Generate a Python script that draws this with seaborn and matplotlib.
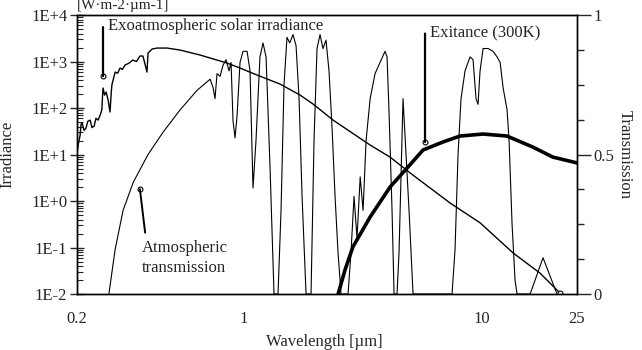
import numpy as np
import matplotlib
matplotlib.use("Agg")
import matplotlib.pyplot as plt
import seaborn as sns
from matplotlib.ticker import LogLocator, NullFormatter, MultipleLocator

# Exoatmospheric solar irradiance [W m-2 um-1]
solar_wl = [0.200, 0.203, 0.206, 0.208, 0.210, 0.214, 0.218, 0.222, 0.227, 0.231,
            0.236, 0.240, 0.245, 0.250, 0.254, 0.257, 0.261, 0.265, 0.270, 0.275,
            0.278, 0.280, 0.284, 0.289, 0.296, 0.303, 0.310, 0.318, 0.330, 0.343,
            0.355, 0.367, 0.378, 0.393, 0.397, 0.413, 0.433, 0.477, 0.541, 0.656,
            0.851, 0.965, 1.137, 1.42, 1.72, 1.954, 2.37, 3.39, 4.11, 5.13,
            7.33, 9.80, 13.5, 17.5, 21.2]
solar_irr = [10.8, 18, 26, 45, 48, 33, 37, 52, 55, 38,
             41, 60, 55, 70, 91, 269, 190, 221, 149, 82,
             200, 313, 420, 594, 560, 724, 680, 841, 920, 1077,
             1000, 1313, 1313, 594, 1525, 1858, 1950, 1950, 1766, 1381,
             929, 724, 513, 328, 191, 122, 55, 16, 8.8, 3.6,
             0.91, 0.34, 0.076, 0.028, 0.0105]

# Exitance of a 300 K body [W m-2 um-1]
exit_wl = [2.49, 2.66, 2.87, 3.39, 4.11, 4.84, 5.65, 6.85, 8.08, 10.1, 12.7, 16.3, 19.8, 25]
exit_val = [0.01, 0.033, 0.103, 0.453, 2.0, 5.1, 12.5, 18.6, 25, 27.6, 25, 14.5, 8.8, 6.6]

# Atmospheric transmission (right axis)
trans_wl = [0.272, 0.289, 0.312, 0.344, 0.397, 0.459, 0.541, 0.637, 0.723, 0.744,
            0.758, 0.773, 0.796, 0.819, 0.843, 0.868, 0.885, 0.902, 0.920, 0.938,
            0.965, 0.994, 1.033, 1.063, 1.094, 1.126, 1.17, 1.205, 1.241, 1.29,
            1.340, 1.393, 1.434, 1.476, 1.519, 1.56, 1.610, 1.658, 1.707, 1.757,
            1.826, 1.916, 1.972, 2.030, 2.09, 2.150, 2.214, 2.279, 2.346, 2.416,
            2.486, 2.560, 2.739, 2.819, 2.902, 2.987, 3.08, 3.167, 3.260, 3.39,
            3.555, 3.73, 3.915, 3.992, 4.070, 4.189, 4.271, 4.396, 4.482, 4.658,
            4.795, 4.936, 5.131, 7.478, 7.697, 7.923, 8.155, 8.477, 8.90, 9.158,
            9.428, 9.612, 9.80, 10.09, 10.59, 11.11, 11.55, 11.9, 12.24, 12.72,
            12.97, 13.35, 13.74, 14.01, 15.9, 18.0, 20.6]
trans_val = [0.0, 0.16, 0.30, 0.40, 0.50, 0.58, 0.66, 0.73, 0.77, 0.74,
             0.70, 0.79, 0.78, 0.82, 0.84, 0.80, 0.83, 0.62, 0.56, 0.64,
             0.83, 0.87, 0.87, 0.80, 0.38, 0.55, 0.85, 0.90, 0.85, 0.45,
             0.0, 0.0, 0.30, 0.75, 0.92, 0.90, 0.93, 0.89, 0.70, 0.35,
             0.0, 0.0, 0.55, 0.88, 0.93, 0.88, 0.91, 0.80, 0.60, 0.35,
             0.15, 0.0, 0.0, 0.15, 0.35, 0.20, 0.42, 0.30, 0.55, 0.70,
             0.79, 0.83, 0.87, 0.85, 0.65, 0.30, 0.0, 0.0, 0.15, 0.70,
             0.50, 0.30, 0.0, 0.0, 0.16, 0.50, 0.70, 0.80, 0.85, 0.84,
             0.70, 0.68, 0.80, 0.88, 0.88, 0.87, 0.85, 0.83, 0.74, 0.66,
             0.55, 0.25, 0.05, 0.0, 0.0, 0.13, 0.0]

x_ticks = [0.2, 1, 10, 25]
x_labels = ["0.2", "1", "10", "25"]
y_ticks = [1e-2, 1e-1, 1e0, 1e1, 1e2, 1e3, 1e4]
y_labels = ["1E-2", "1E-1", "1E+0", "1E+1", "1E+2", "1E+3", "1E+4"]
t_ticks = [0, 0.5, 1]
t_labels = ["0", "0.5", "1"]

sns.set_style("white")
plt.rcParams['font.family'] = ['Liberation Serif', 'DejaVu Serif']
plt.rcParams['font.size'] = 12

fig = plt.figure(figsize=(6.42, 3.5), dpi=100)
ax = fig.add_axes([0.12, 0.16, 0.7788, 0.797])

sns.lineplot(x=solar_wl, y=solar_irr, ax=ax, color='black', lw=1.0, sort=False, estimator=None)
sns.lineplot(x=exit_wl, y=exit_val, ax=ax, color='black', lw=2.6, sort=False, estimator=None)
ax.plot(solar_wl[-1:], solar_irr[-1:], 'o', ms=3.5, mfc='white', mec='black', mew=0.8)

ax.set_xscale('log')
ax.set_yscale('log')
ax.set_xlim(0.2, 25)
ax.set_ylim(1e-2, 1e4)

ax.set_xticks(x_ticks, x_labels)
ax.xaxis.set_minor_locator(LogLocator(base=10, subs=np.arange(2, 10), numticks=50))
ax.xaxis.set_minor_formatter(NullFormatter())
ax.set_yticks(y_ticks, y_labels)
ax.yaxis.set_minor_locator(LogLocator(base=10, subs=np.arange(2, 10), numticks=50))
ax.yaxis.set_minor_formatter(NullFormatter())

ax.tick_params(axis='x', which='major', direction='out', length=6, width=1, labelsize=12, pad=6)
ax.tick_params(axis='x', which='minor', direction='out', length=4, width=1)
ax.tick_params(axis='y', which='major', direction='inout', length=10, width=1, labelsize=12, pad=2)
ax.tick_params(axis='y', which='minor', direction='in', length=4, width=0.8)

ax.set_xlabel("Wavelength [µm]", fontsize=12)
ax.xaxis.set_label_coords(0.494, -0.145)
ax.set_ylabel("Irradiance", fontsize=12)
ax.yaxis.set_label_coords(-0.124, 0.5)

ax.text(0.0, 1.033, "[W·m-2·µm-1]", transform=ax.transAxes, ha='left', va='center', fontsize=11)

# annotations
ax.annotate("", xy=(0.257, 488), xytext=(0.257, 5500),
            arrowprops=dict(arrowstyle='-', lw=1.6, color='black', shrinkA=0, shrinkB=0))
ax.plot([0.257], [488], 'o', ms=3.5, mfc='white', mec='black', mew=0.8)
ax.text(0.270, 5800, "Exoatmospheric solar irradiance", ha='left', va='center', fontsize=12)

ax.annotate("", xy=(5.76, 18.6), xytext=(5.76, 4000),
            arrowprops=dict(arrowstyle='-', lw=1.6, color='black', shrinkA=0, shrinkB=0))
ax.plot([5.76], [18.6], 'o', ms=3.5, mfc='white', mec='black', mew=0.8)
ax.text(6.05, 4100, "Exitance (300K)", ha='left', va='center', fontsize=12)

for s in ax.spines.values():
    s.set_linewidth(1.0)
    s.set_color('black')

ax2 = ax.twinx()
sns.lineplot(x=trans_wl, y=trans_val, ax=ax2, color='black', lw=0.8, sort=False, estimator=None)
ax2.set_ylim(0, 1)
ax2.set_yticks(t_ticks, t_labels)
ax2.yaxis.set_minor_locator(MultipleLocator(0.125))
ax2.tick_params(axis='y', which='major', direction='out', length=10, width=1, labelsize=12, pad=2)
ax2.tick_params(axis='y', which='minor', direction='out', length=5, width=1)
ax2.set_ylabel("Transmission", rotation=270, fontsize=12)
ax2.yaxis.set_label_coords(1.112, 0.5)

ax2.annotate("", xy=(0.367, 0.376), xytext=(0.386, 0.22),
             arrowprops=dict(arrowstyle='-', lw=1.4, color='black', shrinkA=0, shrinkB=0))
ax2.plot([0.367], [0.376], 'o', ms=3.5, mfc='white', mec='black', mew=0.8)
ax2.text(0.375, 0.13, "Atmospheric\ntransmission", ha='left', va='center', fontsize=12,
         linespacing=1.3)
for s in ax2.spines.values():
    s.set_linewidth(1.0)
    s.set_color('black')

fig.savefig("out.png", dpi=100)
plt.close()
